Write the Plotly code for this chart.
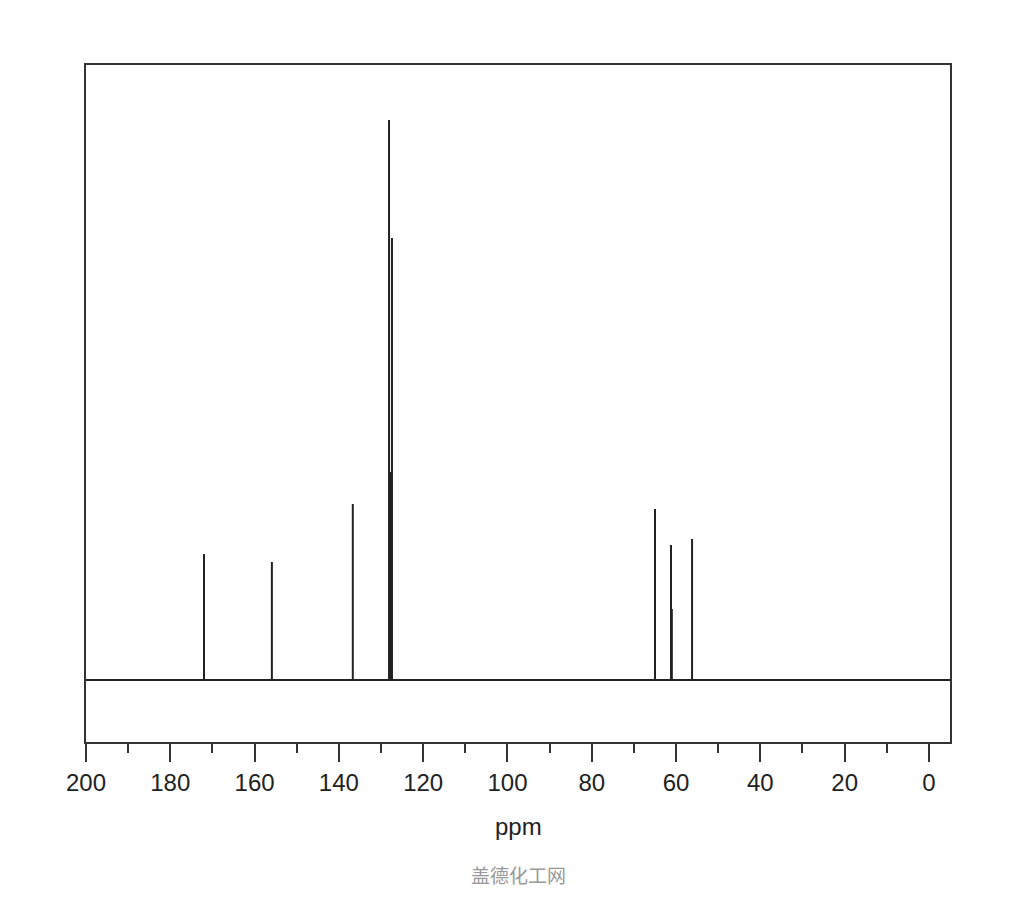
import plotly.graph_objects as go

# Peak positions (ppm) and heights (arbitrary intensity units)
peak_ppm = [172.0, 155.9, 136.7, 128.1, 127.4, 127.8, 65.0, 61.2, 61.0, 56.2]
peak_int = [126, 118, 176, 560, 442, 208, 171, 135, 71, 141]

x_range = [200, -5]
y_range = [-62, 615]
major_ticks = [200, 180, 160, 140, 120, 100, 80, 60, 40, 20, 0]
tick_labels = [str(v) for v in major_ticks]

xs, ys = [], []
for p, h in zip(peak_ppm, peak_int):
    xs += [p, p, None]
    ys += [0, h, None]

fig = go.Figure()
fig.add_trace(go.Scatter(x=x_range, y=[0, 0], mode="lines",
                         line=dict(color="#222222", width=2), hoverinfo="skip"))
fig.add_trace(go.Scatter(x=xs, y=ys, mode="lines",
                         line=dict(color="#222222", width=2), hoverinfo="skip"))

fig.update_layout(
    width=1024, height=900,
    margin=dict(l=78, r=82, t=57, b=166),
    paper_bgcolor="white", plot_bgcolor="white",
    showlegend=False,
    font=dict(family="Liberation Sans", color="#222222"),
    xaxis=dict(
        range=x_range, showgrid=False, zeroline=False,
        showline=True, linecolor="#333333", linewidth=1.5, mirror=True,
        tickmode="array", tickvals=major_ticks, ticktext=tick_labels,
        ticks="outside", ticklen=18, tickwidth=2, tickcolor="#333333",
        minor=dict(dtick=10, tick0=0, ticks="outside", ticklen=9, tickwidth=2, tickcolor="#333333"),
        tickfont=dict(size=24, family="Liberation Sans", color="#222222"),
    ),
    yaxis=dict(
        range=y_range, showgrid=False, zeroline=False, showticklabels=False,
        showline=True, linecolor="#333333", linewidth=1.5, mirror=True, ticks="",
    ),
    annotations=[
        dict(text="ppm", xref="paper", yref="paper", x=0.5, y=-0.125,
             xanchor="center", yanchor="middle", showarrow=False,
             font=dict(size=24, color="#222222", family="Liberation Sans")),
        dict(text="盖德化工网", xref="paper", yref="paper", x=0.5, y=-0.195,
             xanchor="center", yanchor="middle", showarrow=False,
             font=dict(size=19, color="#999999", family="Noto Sans CJK SC")),
    ],
)

fig.write_html("out.html")
